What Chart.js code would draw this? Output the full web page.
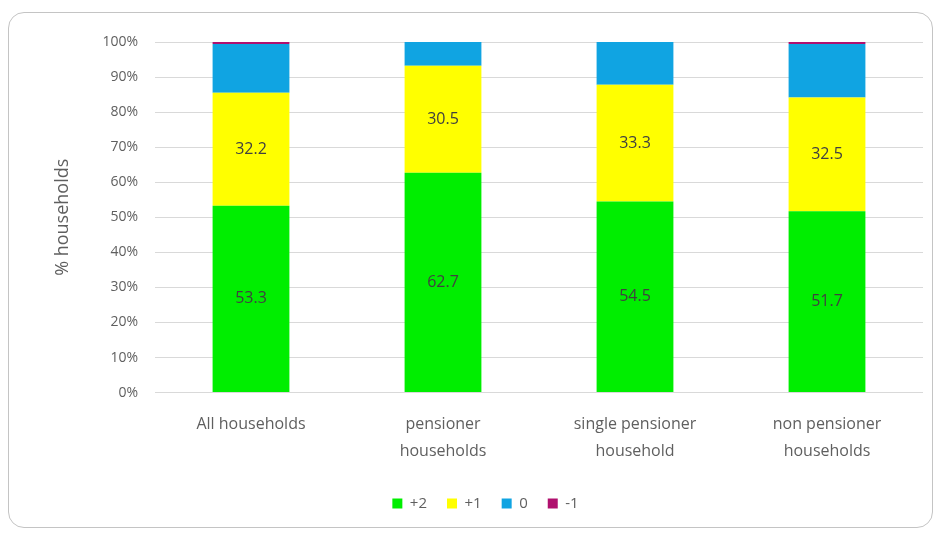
<!DOCTYPE html>
<html>
<head>
<meta charset="utf-8">
<script src="https://cdn.jsdelivr.net/npm/chart.js@4/dist/chart.umd.min.js"></script>
<style>
  html, body { margin: 0; padding: 0; background: #fff; }
  #wrap { position: relative; width: 939px; height: 533px; overflow: hidden; }
  #card {
    position: absolute; left: 8px; top: 12px; width: 923px; height: 514px;
    border: 1px solid #c4c4c4; border-radius: 16px; background: #fff;
  }
  #chart { position: absolute; left: 0; top: 0; }
</style>
</head>
<body>
<div id="wrap">
  <div id="card"></div>
  <canvas id="chart" width="939" height="533"></canvas>
</div>
<script>
// Household groups and share of households per score band (%)
const categories = [
  'All households',
  ['pensioner', 'households'],
  ['single pensioner', 'household'],
  ['non pensioner', 'households']
];
const plusTwo = [53.3, 62.7, 54.5, 51.7];
const plusOne = [32.2, 30.5, 33.3, 32.5];
const zero = [13.9, 6.8, 12.2, 15.2];
const minusOne = [0.6, 0, 0, 0.6];
const yTicks = [0, 10, 20, 30, 40, 50, 60, 70, 80, 90, 100];

const textGrey = '#5f5f5f';
const fontFamily = '"Open Sans", "Liberation Sans", sans-serif';

// Writes the value in the middle of each segment for the labelled series
const segmentLabels = {
  id: 'segmentLabels',
  afterDatasetsDraw(chart) {
    const ctx = chart.ctx;
    ctx.save();
    ctx.font = '16px ' + fontFamily;
    ctx.fillStyle = '#404040';
    ctx.textAlign = 'center';
    ctx.textBaseline = 'middle';
    chart.data.datasets.forEach((ds, i) => {
      if (!ds.showValues) return;
      chart.getDatasetMeta(i).data.forEach((bar, j) => {
        const v = ds.data[j];
        if (!v) return;
        const mid = (bar.y + bar.base) / 2;
        ctx.fillText(v.toFixed(1), bar.x, mid);
      });
    });
    ctx.restore();
  }
};

new Chart(document.getElementById('chart'), {
  type: 'bar',
  data: {
    labels: categories,
    datasets: [
      { label: '+2', data: plusTwo, backgroundColor: '#00ee00', showValues: true },
      { label: '+1', data: plusOne, backgroundColor: '#ffff00', showValues: true },
      { label: '0', data: zero, backgroundColor: '#10a4e2' },
      { label: '-1', data: minusOne, backgroundColor: '#b0106e' }
    ]
  },
  options: {
    responsive: false,
    animation: false,
    layout: { padding: { left: 48, right: 16, top: 42, bottom: 12 } },
    datasets: { bar: { categoryPercentage: 1, barPercentage: 0.4 } },
    scales: {
      x: {
        stacked: true,
        afterFit(scale) { scale.height += 1; },
        grid: { display: false },
        border: { display: false },
        ticks: {
          color: textGrey,
          font: { family: fontFamily, size: 16, lineHeight: 1.7 },
          padding: 10,
          maxRotation: 0
        }
      },
      y: {
        stacked: true,
        min: 0,
        max: 100,
        afterBuildTicks(scale) { scale.ticks = yTicks.map(v => ({ value: v })); },
        afterFit(scale) { scale.width = 107; },
        grid: { color: '#d9d9d9', drawTicks: false },
        border: { display: false },
        ticks: {
          color: textGrey,
          font: { family: fontFamily, size: 14 },
          padding: 17,
          callback: v => v + '%'
        },
        title: {
          display: true,
          text: '% households',
          color: textGrey,
          font: { family: fontFamily, size: 18 },
          padding: { bottom: 0 }
        }
      }
    },
    plugins: {
      legend: {
        position: 'bottom',
        labels: {
          color: textGrey,
          font: { family: fontFamily, size: 15 },
          boxWidth: 10,
          boxHeight: 10,
          padding: 20
        }
      },
      tooltip: { enabled: false }
    }
  },
  plugins: [segmentLabels]
});
</script>
</body>
</html>
